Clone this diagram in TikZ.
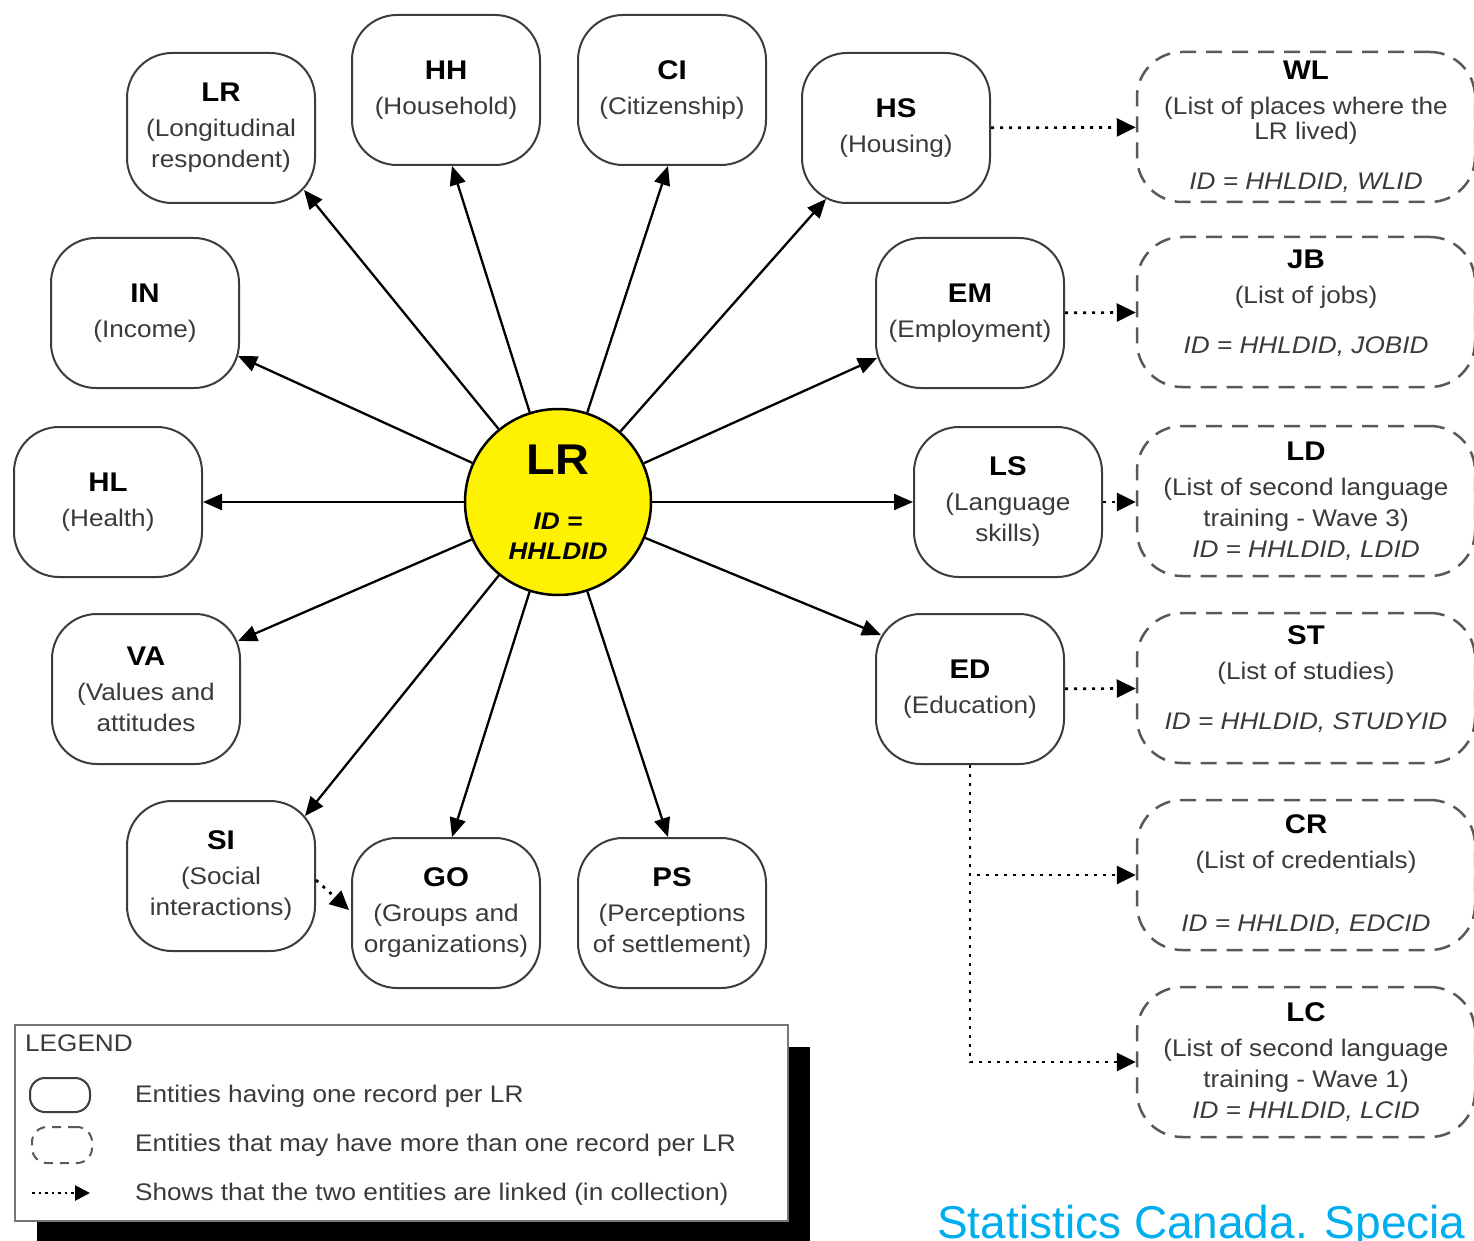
\documentclass[tikz,border=0pt]{standalone}
\usepackage{fontspec}
\setmainfont{Liberation Sans}[FakeStretch=1.09]
\newfontfamily\capfont{Liberation Sans}
\usetikzlibrary{arrows.meta,calc,shadows}

\definecolor{edge}{HTML}{3C3C3C}
\definecolor{ink}{HTML}{3A3A3A}
\definecolor{stcblue}{HTML}{00AEEF}

% title line in bold, then the description
\newcommand{\ent}[2]{{\color{black}\bfseries\fontsize{27}{31}\selectfont #1}\\[4pt]#2}
% deeper last line, lifts the text a little
\newcommand{\lift}{\rule[-21pt]{0pt}{0pt}}

\begin{document}
\begin{tikzpicture}[
	x=1pt, y=-1pt,
	box/.style={
		draw=edge, line width=2pt, rounded corners=45pt,
		minimum width=188pt, minimum height=150pt,
		align=center, inner sep=2pt, text=ink,
		font=\fontsize{24}{31}\selectfont
	},
	multi/.style={
		box, draw=edge!85, line width=2.5pt, dash pattern=on 16pt off 10pt,
		minimum width=338pt
	},
	hub/.style={
		circle, draw=black, line width=2.5pt, fill=yellow,
		minimum size=186pt, inner sep=0pt, align=center,
		font=\bfseries\fontsize{24}{30}\selectfont
	},
	arr/.style={-{Triangle[length=19pt,width=16pt]}, line width=2.3pt},
	link/.style={-{Triangle[length=19pt,width=18pt]}, line width=2.7pt,
		dash pattern=on 3pt off 6pt},
	legtext/.style={anchor=west, inner sep=0pt, text=ink,
		font=\fontsize{24}{31}\selectfont},
	]
	
	\fill[white] (0,0) rectangle (1474,1241);
	\useasboundingbox (0,0) rectangle (1474,1241);
	
	% the respondent in the middle
	\node[hub] (lr) at (558,502) {{\fontsize{43}{43}\selectfont LR}\\[25pt]\textit{ID =}\\\textit{HHLDID}};
	
	% one record per LR
	\node[box] (resp) at (221,128) {\ent{LR}{(Longitudinal\\respondent)}};
	\node[box] (hh)   at (446,90)  {\ent{HH}{(Household)}};
	\node[box] (ci)   at (672,90)  {\ent{CI}{(Citizenship)}};
	\node[box] (hs)   at (896,128) {\ent{HS}{(Housing)}};
	\node[box] (inc)  at (145,313) {\ent{IN}{(Income)}};
	\node[box] (em)   at (970,313) {\ent{EM}{(Employment)}};
	\node[box] (hl)   at (108,502) {\ent{HL}{(Health)}};
	\node[box] (ls)   at (1008,502) {\ent{LS}{(Language\\skills)}};
	\node[box] (va)   at (146,689) {\ent{VA}{(Values and\\attitudes}};
	\node[box] (ed)   at (970,689) {\ent{ED}{(Education)}};
	\node[box] (si)   at (221,876) {\ent{SI}{(Social\\interactions)}};
	\node[box] (go)   at (446,913) {\ent{GO}{(Groups and\\organizations)}};
	\node[box] (ps)   at (672,913) {\ent{PS}{(Perceptions\\of settlement)}};
	
	% more than one record per LR
	\node[multi] (wl) at (1306,127)  {\ent{WL}{(List of places where the\\[-6pt]LR lived)\\[19pt]\textit{ID = HHLDID, WLID}}};
	\node[multi] (jb) at (1306,312)  {\ent{JB}{(List of jobs)\\[19pt]\textit{ID = HHLDID, JOBID}\lift}};
	\node[multi] (ld) at (1306,501)  {\ent{LD}{(List of second language\\training - Wave 3)\\\textit{ID = HHLDID, LDID}}};
	\node[multi] (st) at (1306,688)  {\ent{ST}{(List of studies)\\[19pt]\textit{ID = HHLDID, STUDYID}\lift}};
	\node[multi] (cr) at (1306,875)  {\ent{CR}{(List of credentials)\\[32pt]\textit{ID = HHLDID, EDCID}}};
	\node[multi] (lc) at (1306,1062) {\ent{LC}{(List of second language\\training - Wave 1)\\\textit{ID = HHLDID, LCID}}};
	
	% spokes
	\draw[arr] (lr) -- ($(resp.south east)+(-12,-14)$);
	\draw[arr] (lr) -- ($(hh.south)+(6,0)$);
	\draw[arr] (lr) -- ($(ci.south)+(-4,0)$);
	\draw[arr] (lr) -- ($(hs.south west)+(25,-5)$);
	\draw[arr] (lr) -- ($(inc.south east)+(-2,-33)$);
	\draw[arr] (lr) -- ($(em.south west)+(2,-31)$);
	\draw[arr] (lr) -- (hl.east);
	\draw[arr] (lr) -- (ls.west);
	\draw[arr] (lr) -- ($(va.north east)+(-3,28)$);
	\draw[arr] (lr) -- ($(ed.north west)+(6,22)$);
	\draw[arr] (lr) -- ($(si.north east)+(-11,16)$);
	\draw[arr] (lr) -- ($(go.north)+(6,0)$);
	\draw[arr] (lr) -- ($(ps.north)+(-4,0)$);
	
	% links made in collection
	\draw[link] (hs) -- (wl);
	\draw[link] (em) -- (jb);
	\draw[link] (ls.east) -- ($(ld.west)+(0,1)$);
	\draw[link] (ed) -- (st);
	\draw[link] (ed.south) |- (cr.west);
	\draw[link] (ed.south) |- (lc.west);
	\draw[link] ($(si.east)+(0,4)$) -- ($(go.west)+(-2,-3)$);
	
	% legend
	\node[draw=edge!70, line width=1.5pt, fill=white, anchor=north west,
		minimum width=773pt, minimum height=196pt,
		drop shadow={shadow xshift=22pt, shadow yshift=-22pt, fill=black, opacity=1}]
		(key) at (14,1024) {};
	\node[legtext] (keyttl) at (25,1043) {LEGEND};
	\node[box, minimum width=60pt, minimum height=34pt, rounded corners=15pt] (key1) at (60,1095) {};
	\node[multi, minimum width=60pt, minimum height=36pt, rounded corners=15pt,
		dash pattern=on 9pt off 7pt, line width=2pt] (key2) at (62,1145) {};
	\coordinate (key3a) at (32,1193);
	\coordinate (key3b) at (90,1193);
	\draw[link, -{Triangle[length=15pt,width=15pt]}, dash pattern=on 2.5pt off 4pt] (key3a) -- (key3b);
	\node[legtext] (txt1) at (135,1096) {Entities having one record per LR};
	\node[legtext] (txt2) at (135,1145) {Entities that may have more than one record per LR};
	\node[legtext] (txt3) at (135,1194) {Shows that the two entities are linked (in collection)};
	
	% source line at the lower edge
	\node[anchor=base west, inner sep=0pt, text=stcblue,
		font=\capfont\fontsize{46}{46}\selectfont] (src) at (937,1238) {Statistics Canada. Specia};
	
\end{tikzpicture}
\end{document}
